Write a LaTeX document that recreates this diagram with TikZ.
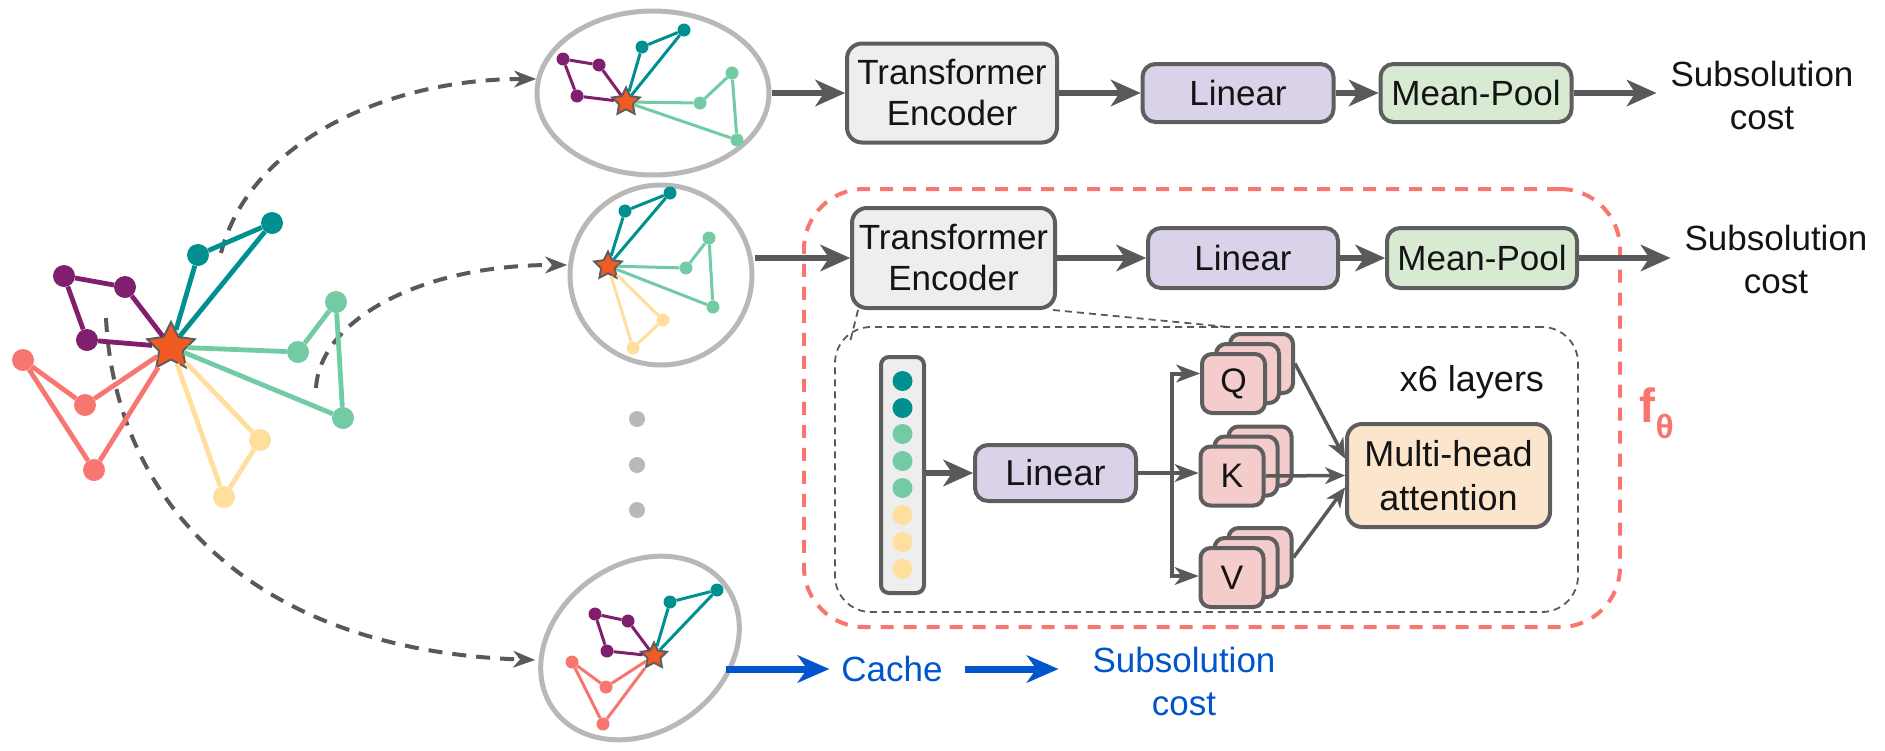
\documentclass[tikz,border=0pt]{standalone}
\usepackage{fontspec}
\setmainfont{Liberation Sans}
\usetikzlibrary{arrows.meta,shapes.geometric,calc}
\definecolor{arr}{HTML}{595959}
\definecolor{bord}{HTML}{5E5E5E}
\definecolor{ellg}{HTML}{B8B8B8}
\definecolor{tlc}{HTML}{00908F}
\definecolor{puc}{HTML}{801F6E}
\definecolor{mic}{HTML}{72CBA4}
\definecolor{sac}{HTML}{F7766F}
\definecolor{yec}{HTML}{FFDE9E}
\definecolor{stc}{HTML}{F15A22}
\definecolor{tegray}{HTML}{EEEEEE}
\definecolor{linc}{HTML}{D9D2E9}
\definecolor{mpc}{HTML}{D9EAD3}
\definecolor{qkvc}{HTML}{F4CCCC}
\definecolor{mhac}{HTML}{FCE5CD}
\definecolor{redd}{HTML}{F8766D}
\definecolor{blu}{HTML}{0055CC}
\definecolor{txt}{HTML}{141414}
\begin{document}
\begin{tikzpicture}[x=1pt,y=-1pt,
  box/.style={draw=bord, line width=4pt, rounded corners=13pt, inner sep=0pt, align=center, text=txt, font=\fontsize{35}{41}\selectfont},
  qk/.style={draw=bord, fill=qkvc, line width=4pt, rounded corners=10pt, minimum width=63pt, minimum height=59pt, inner sep=0pt, text=txt, font=\fontsize{34}{40}\selectfont},
  tx/.style={align=center, inner sep=0pt, text=txt, font=\fontsize{35}{43}\selectfont},
  marrow/.style={draw=arr, line width=6pt, -{Stealth[length=30pt,width=27pt,inset=9pt,line width=0.5pt]}},
  tarrow/.style={draw=arr, line width=4pt, -{Stealth[length=24pt,width=18pt,inset=7pt,line width=0.5pt]}},
  sarrow/.style={draw=arr, line width=3.5pt, -{Stealth[length=20pt,width=17pt,inset=6pt,line width=0.5pt]}},
  darrow/.style={draw=arr, line width=4pt, dash pattern=on 14pt off 10pt, -{Stealth[length=22pt,width=17pt,inset=7pt,line width=0.5pt]}},
  barrow/.style={draw=blu, line width=7pt, -{Stealth[length=32pt,width=28pt,inset=10pt,line width=0.5pt]}},
  zl/.style={draw=arr, line width=1.8pt, dash pattern=on 7pt off 5pt},
  ell/.style={ellipse, draw=ellg, line width=5pt, inner sep=0pt},
  gn/.style={circle, inner sep=0pt, minimum size=#1},
  stn/.style={star, star points=5, star point ratio=2.0, fill=stc, draw=bord, line width=2pt, inner sep=0pt, minimum size=#1},
  dotn/.style={circle, inner sep=0pt, minimum size=20pt}
]
\useasboundingbox (0,0) rectangle (1885,750);

% ---------- dashed split arrows ----------
\coordinate (d1s) at (221,253); \coordinate (d1e) at (536,79);
\coordinate (d2s) at (316,388); \coordinate (d2e) at (567,265);
\coordinate (d3s) at (106,318); \coordinate (d3e) at (535,660);
\draw[darrow] (d1s) .. controls (250,140) and (390,79) .. (d1e);
\draw[darrow] (d2s) .. controls (320,320) and (420,265) .. (d2e);
\draw[darrow] (d3s) .. controls (115,500) and (250,650) .. (d3e);

% ---------- main graph ----------
\node[stn=50pt] (gs) at (171,347) {};
\node[gn=22pt, fill=puc] (gp1) at (64,276) {};
\node[gn=22pt, fill=puc] (gp2) at (125,287) {};
\node[gn=22pt, fill=puc] (gp3) at (87,340) {};
\node[gn=22pt, fill=tlc] (gt1) at (198,255) {};
\node[gn=22pt, fill=tlc] (gt2) at (272,223) {};
\node[gn=22pt, fill=mic] (gg1) at (298,352) {};
\node[gn=22pt, fill=mic] (gg2) at (336,302) {};
\node[gn=22pt, fill=mic] (gg3) at (343,418) {};
\node[gn=22pt, fill=sac] (gr1) at (23,360) {};
\node[gn=22pt, fill=sac] (gr2) at (85,405) {};
\node[gn=22pt, fill=sac] (gr3) at (94,470) {};
\node[gn=22pt, fill=yec] (gy1) at (260,440) {};
\node[gn=22pt, fill=yec] (gy2) at (224,497) {};
\draw[puc, line width=4.8pt] (gs) -- (gp2) -- (gp1) -- (gp3) -- (gs);
\draw[tlc, line width=4.8pt] (gs) -- (gt1) -- (gt2) -- (gs);
\draw[mic, line width=4.8pt] (gs) -- (gg1) -- (gg2) -- (gg3) -- (gs);
\draw[sac, line width=4.8pt] (gs) -- (gr2) -- (gr1) -- (gr3) -- (gs);
\draw[yec, line width=4.8pt] (gs) -- (gy1) -- (gy2) -- (gs);

% ---------- ellipse 1 ----------
\node[ell, minimum width=232pt, minimum height=164pt] (e1) at (653,93) {};
\node[stn=29pt] (as) at (626,102) {};
\node[gn=13pt, fill=puc] (ap1) at (563,59) {};
\node[gn=13pt, fill=puc] (ap2) at (599,65) {};
\node[gn=13pt, fill=puc] (ap3) at (577,96) {};
\node[gn=13pt, fill=tlc] (at1) at (642,47) {};
\node[gn=13pt, fill=tlc] (at2) at (684,30) {};
\node[gn=13pt, fill=mic] (ag1) at (700,103) {};
\node[gn=13pt, fill=mic] (ag2) at (732,73) {};
\node[gn=13pt, fill=mic] (ag3) at (737,140) {};
\draw[puc, line width=3pt] (as) -- (ap2) -- (ap1) -- (ap3) -- (as);
\draw[tlc, line width=3pt] (as) -- (at1) -- (at2) -- (as);
\draw[mic, line width=3pt] (as) -- (ag1) -- (ag2) -- (ag3) -- (as);

% ---------- ellipse 2 ----------
\node[ell, minimum width=182pt, minimum height=180pt] (e2) at (661,275) {};
\node[stn=29pt] (bs) at (608,266) {};
\node[gn=13pt, fill=tlc] (bt1) at (625,211) {};
\node[gn=13pt, fill=tlc] (bt2) at (670,193) {};
\node[gn=13pt, fill=mic] (bg1) at (686,268) {};
\node[gn=13pt, fill=mic] (bg2) at (709,238) {};
\node[gn=13pt, fill=mic] (bg3) at (713,307) {};
\node[gn=13pt, fill=yec] (by1) at (663,320) {};
\node[gn=13pt, fill=yec] (by2) at (633,348) {};
\draw[tlc, line width=3pt] (bs) -- (bt1) -- (bt2) -- (bs);
\draw[mic, line width=3pt] (bs) -- (bg1) -- (bg2) -- (bg3) -- (bs);
\draw[yec, line width=3pt] (bs) -- (by1) -- (by2) -- (bs);

% ---------- dots ----------
\node[circle, inner sep=0pt, minimum size=16pt, fill=ellg] (dt1) at (637,419) {};
\node[circle, inner sep=0pt, minimum size=16pt, fill=ellg] (dt2) at (637,465) {};
\node[circle, inner sep=0pt, minimum size=16pt, fill=ellg] (dt3) at (637,510) {};

% ---------- ellipse 3 ----------
\node[ell, rotate=35, minimum width=212pt, minimum height=168pt] (e3) at (640,648) {};
\node[stn=27pt] (cs) at (654,656) {};
\node[gn=13pt, fill=puc] (cp1) at (595,614) {};
\node[gn=13pt, fill=puc] (cp2) at (628,621) {};
\node[gn=13pt, fill=puc] (cp3) at (607,651) {};
\node[gn=13pt, fill=tlc] (ct1) at (670,602) {};
\node[gn=13pt, fill=tlc] (ct2) at (717,590) {};
\node[gn=13pt, fill=sac] (cr1) at (572,662) {};
\node[gn=13pt, fill=sac] (cr2) at (606,687) {};
\node[gn=13pt, fill=sac] (cr3) at (603,724) {};
\draw[puc, line width=3pt] (cs) -- (cp2) -- (cp1) -- (cp3) -- (cs);
\draw[tlc, line width=3pt] (cs) -- (ct1) -- (ct2) -- (cs);
\draw[sac, line width=3pt] (cs) -- (cr2) -- (cr1) -- (cr3) -- (cs);

% ---------- row 1 ----------
\node[box, fill=tegray, minimum width=210pt, minimum height=99pt, rounded corners=15pt] (te1) at (952,93) {Transformer\\Encoder};
\node[box, fill=linc, minimum width=191pt, minimum height=58pt] (lin1) at (1238,93) {Linear};
\node[box, fill=mpc, minimum width=191pt, minimum height=58pt] (mp1) at (1476,93) {Mean-Pool};
\node[tx] (sub1) at (1762,95) {Subsolution\\cost};
\draw[marrow] (e1.east) -- (te1.west);
\draw[marrow] (te1.east) -- (lin1.west);
\draw[marrow] (lin1.east) -- (mp1.west);
\draw[marrow, shorten >=14pt] (mp1.east) -- (mp1.east -| sub1.west);

% ---------- f_theta box ----------
\node[draw=redd, line width=4pt, dash pattern=on 13pt off 10pt, rounded corners=60pt, minimum width=816pt, minimum height=438pt, inner sep=0pt] (fbox) at (1212,408) {};
\node[text=redd, inner sep=0pt, font=\fontsize{48}{52}\selectfont\bfseries] (fth) at (1657,413) {f\textsubscript{θ}};

% ---------- row 2 ----------
\node[box, fill=tegray, minimum width=203pt, minimum height=100pt, rounded corners=15pt] (te2) at (953.5,258) {Transformer\\Encoder};
\node[box, fill=linc, minimum width=190pt, minimum height=60pt] (lin2) at (1243,258) {Linear};
\node[box, fill=mpc, minimum width=190pt, minimum height=60pt] (mp2) at (1482,258) {Mean-Pool};
\node[tx] (sub2) at (1776,259) {Subsolution\\cost};
\draw[marrow] (e2.east |- te2.west) -- (te2.west);
\draw[marrow] (te2.east) -- (lin2.west);
\draw[marrow] (lin2.east) -- (mp2.west);
\draw[marrow, shorten >=14pt] (mp2.east) -- (mp2.east -| sub2.west);

% ---------- zoom-in box ----------
\node[zl, rounded corners=36pt, minimum width=743pt, minimum height=285pt, inner sep=0pt] (inner) at (1206.5,469.5) {};
\coordinate (zla) at (850,342);
\coordinate (zlb) at (1228,327);
\draw[zl] ([xshift=8pt]te2.south west) -- (zla);
\draw[zl] ([xshift=-4pt]te2.south east) -- (zlb);

% token column
\node[draw=bord, fill=tegray, line width=4pt, rounded corners=8pt, minimum width=43pt, minimum height=236pt, inner sep=0pt] (col) at (902.5,475) {};
\node[dotn, fill=tlc] (c1) at (902.5,381) {};
\node[dotn, fill=tlc] (c2) at (902.5,408) {};
\node[dotn, fill=mic] (c3) at (902.5,434) {};
\node[dotn, fill=mic] (c4) at (902.5,461) {};
\node[dotn, fill=mic] (c5) at (902.5,488) {};
\node[dotn, fill=yec] (c6) at (902.5,515) {};
\node[dotn, fill=yec] (c7) at (902.5,542) {};
\node[dotn, fill=yec] (c8) at (902.5,569) {};

\node[box, fill=linc, minimum width=161pt, minimum height=56pt, font=\fontsize{36}{42}\selectfont] (lin3) at (1055.5,473) {Linear};
\draw[marrow] (col.east |- lin3.west) -- (lin3.west);

% Q K V stacks
\node[qk] (q3) at (1261.5,363.5) {};
\node[qk] (q2) at (1247.5,373.5) {};
\node[qk] (q1) at (1233.5,383.5) {Q};
\node[qk] (k3) at (1260,456) {};
\node[qk] (k2) at (1246,466) {};
\node[qk] (k1) at (1232,476) {K};
\node[qk] (v3) at (1260,557.5) {};
\node[qk] (v2) at (1246,567.5) {};
\node[qk] (v1) at (1232,577.5) {V};

\coordinate (br) at (1172,473);
\draw[tarrow] (lin3.east) -- ([yshift=3pt]k1.west);
\draw[tarrow] (br) |- ([yshift=10pt]q1.west);
\draw[tarrow] (br) |- ([yshift=1.5pt]v1.west);

\node[box, fill=mhac, minimum width=203pt, minimum height=103pt, rounded corners=15pt, font=\fontsize{36}{44}\selectfont] (mha) at (1448.5,475.5) {Multi-head\\attention};
\draw[sarrow] (q3.east) -- ([yshift=17pt]mha.west);
\draw[sarrow] (k1.east) -- (mha.west);
\draw[sarrow] (v3.east) -- ([yshift=-12pt]mha.west);

\node[tx, font=\fontsize{36}{42}\selectfont] (x6) at (1472,382) {x6 layers};

% ---------- cache row ----------
\coordinate (e3out) at (726,669);
\node[tx, text=blu] (cache) at (892,669) {Cache};
\node[tx, text=blu] (sub3) at (1184,681) {Subsolution\\cost};
\draw[barrow, shorten >=12pt] (e3out) -- (e3out -| cache.west);
\draw[barrow, shorten <=22pt, shorten >=34pt] (cache.east) -- (cache.east -| sub3.west);
\end{tikzpicture}
\end{document}
